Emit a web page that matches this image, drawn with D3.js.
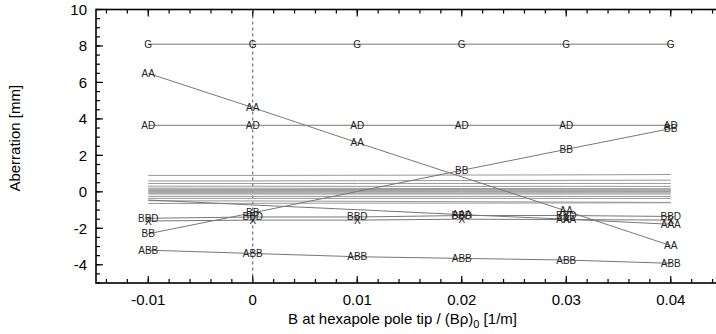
<html lang="en">
  <head>
    <meta charset="UTF-8">
    <title>Aberration vs hexapole strength</title>
    <script src="https://d3js.org/d3.v7.min.js"></script>
    <style>
body, html {
  margin: 0;
  padding: 0;
  width: 100%;
  height: 100%;
  overflow: hidden;
  background: white;
}
    svg {
      display: block;
      font-family: "Liberation Sans", Arial, sans-serif;
    }
    .lbl {
      text-anchor: middle;
      dominant-baseline: central;
      font-size: 10px;
      fill: #222;
    }
    </style>
  </head>
  <body>
    <svg width="716" height="334"></svg>

    <script>
      // hexapole strength settings (x)
      const strengths = [-0.01, 0, 0.01, 0.02, 0.03, 0.04];

      // aberration per term [mm], one value per strength
      const G   = [8.1, 8.1, 8.1, 8.1, 8.1, 8.1];
      const AA  = [6.5, 4.62, 2.7, 0.82, -1.05, -2.95];
      const AD  = [3.65, 3.65, 3.65, 3.65, 3.65, 3.65];
      const BB  = [-2.3, -1.15, 0.02, 1.18, 2.33, 3.47];
      const BBD = [-1.45, -1.38, -1.38, -1.3, -1.3, -1.35];
      const X   = [-1.6, -1.55, -1.55, -1.5, -1.52, -1.55];
      const AAA = [-0.45, -0.72, -0.98, -1.25, -1.5, -1.78];
      const ABB = [-3.2, -3.38, -3.56, -3.65, -3.74, -3.92];

      // small terms, all stay inside |1| mm so they carry no labels
      const A   = [0.9, 0.9, 0.91, 0.92, 0.93, 0.95];
      const B   = [0.6, 0.6, 0.61, 0.62, 0.63, 0.64];
      const D   = [0.46, 0.46, 0.46, 0.46, 0.46, 0.46];
      const AB  = [0.31, 0.31, 0.3, 0.3, 0.3, 0.3];
      const BD  = [0.2, 0.2, 0.19, 0.18, 0.18, 0.17];
      const DD  = [0.14, 0.13, 0.13, 0.12, 0.11, 0.11];
      const AAB = [0.08, 0.08, 0.08, 0.09, 0.09, 0.09];
      const AAD = [0.03, 0.03, 0.03, 0.03, 0.03, 0.03];
      const ABD = [-0.02, -0.02, -0.01, -0.01, -0.01, 0.0];
      const ADD = [-0.07, -0.07, -0.07, -0.07, -0.06, -0.06];
      const BBB = [-0.12, -0.12, -0.12, -0.12, -0.12, -0.12];
      const ABBD = [-0.25, -0.25, -0.25, -0.25, -0.25, -0.25];
      const BDD = [-0.36, -0.36, -0.36, -0.36, -0.36, -0.36];
      const DDD = [-0.49, -0.5, -0.52, -0.54, -0.56, -0.58];
      const AG  = [-0.64, -0.63, -0.62, -0.62, -0.61, -0.6];

      const series = [
        ["A", A], ["B", B], ["D", D], ["AB", AB], ["BD", BD], ["DD", DD],
        ["AAB", AAB], ["AAD", AAD], ["ABD", ABD], ["ADD", ADD], ["BBB", BBB],
        ["ABBD", ABBD], ["BDD", BDD], ["DDD", DDD], ["AG", AG],
        ["G", G], ["AA", AA], ["AD", AD], ["BB", BB], ["BBD", BBD],
        ["X", X], ["AAA", AAA], ["ABB", ABB]
      ].map(([name, vals]) => ({ name, vals }));

      const xTicks = [-0.01, 0, 0.01, 0.02, 0.03, 0.04];
      const yTicks = [-4, -2, 0, 2, 4, 6, 8, 10];

      const svg = d3.select("svg");
      const m = { left: 96, top: 9.5, right: 723, bottom: 283 };

      const x = d3.scaleLinear().domain([-0.015, 0.045]).range([m.left, m.right]);
      const y = d3.scaleLinear().domain([-5, 10]).range([m.bottom, m.top]);

      // minor ticks
      const xMinor = d3.range(-0.014, 0.045, 0.002).map(v => +v.toFixed(3));
      const yMinor = d3.range(-5, 10.01, 0.5);

      const g = svg.append("g");

      // frame
      g.append("rect")
        .attr("x", m.left).attr("y", m.top)
        .attr("width", m.right - m.left).attr("height", m.bottom - m.top)
        .attr("fill", "none").attr("stroke", "#000").attr("stroke-width", 1.6);

      function ticksX(vals, len) {
        g.selectAll(null).data(vals).join("line")
          .attr("x1", d => x(d)).attr("x2", d => x(d))
          .attr("y1", m.bottom).attr("y2", m.bottom - len)
          .attr("stroke", "#000").attr("stroke-width", 1.2);
        g.selectAll(null).data(vals).join("line")
          .attr("x1", d => x(d)).attr("x2", d => x(d))
          .attr("y1", m.top).attr("y2", m.top + len)
          .attr("stroke", "#000").attr("stroke-width", 1.2);
      }
      function ticksY(vals, len) {
        g.selectAll(null).data(vals).join("line")
          .attr("y1", d => y(d)).attr("y2", d => y(d))
          .attr("x1", m.left).attr("x2", m.left + len)
          .attr("stroke", "#000").attr("stroke-width", 1.2);
        g.selectAll(null).data(vals).join("line")
          .attr("y1", d => y(d)).attr("y2", d => y(d))
          .attr("x1", m.right).attr("x2", m.right - len)
          .attr("stroke", "#000").attr("stroke-width", 1.2);
      }
      ticksX(xMinor, 4);
      ticksX(xTicks, 7);
      ticksY(yMinor, 4);
      ticksY(yTicks, 7);

      // tick labels, plain hyphen as minus like the original
      g.selectAll(null).data(xTicks).join("text")
        .attr("x", d => x(d)).attr("y", 305)
        .attr("text-anchor", "middle").attr("font-size", 15)
        .text(d => d === 0 ? "0" : d3.format(".2f")(d).replace("\u2212", "-"));
      g.selectAll(null).data(yTicks).join("text")
        .attr("x", 87).attr("y", d => y(d)).attr("dy", "0.36em")
        .attr("text-anchor", "end").attr("font-size", 15)
        .text(d => String(d));

      // zero line
      g.append("line")
        .attr("x1", x(0)).attr("x2", x(0))
        .attr("y1", m.top).attr("y2", m.bottom)
        .attr("stroke", "#555").attr("stroke-width", 1)
        .attr("stroke-dasharray", "3,3");

      const line = d3.line()
        .x((d, i) => x(strengths[i]))
        .y(d => y(d));

      g.selectAll("path.term").data(series).join("path")
        .attr("class", "term")
        .attr("d", d => line(d.vals))
        .attr("fill", "none")
        .attr("stroke", d => d.vals.some(v => Math.abs(v) > 1) ? "#777" : "#999")
        .attr("stroke-width", 1);

      // labels only where the term is bigger than 1 mm
      const pts = series.flatMap(s => s.vals.map((v, i) => ({ name: s.name, sx: strengths[i], v })))
        .filter(p => Math.abs(p.v) > 1);

      g.selectAll("text.lbl").data(pts).join("text")
        .attr("class", "lbl")
        .attr("x", d => x(d.sx)).attr("y", d => y(d.v))
        .text(d => d.name);

      // axis titles
      const xt = g.append("text")
        .attr("x", (m.left + m.right) / 2 - 7).attr("y", 324)
        .attr("text-anchor", "middle").attr("font-size", 15);
      xt.append("tspan").text("B at hexapole pole tip / (Bρ)");
      xt.append("tspan").attr("font-size", 11).attr("dy", 4).text("0");
      xt.append("tspan").attr("dy", -4).text(" [1/m]");

      g.append("text")
        .attr("transform", `translate(20,${(m.top + m.bottom) / 2 - 8}) rotate(-90)`)
        .attr("text-anchor", "middle").attr("font-size", 15)
        .text("Aberration [mm]");
    </script>
  </body>
</html>
